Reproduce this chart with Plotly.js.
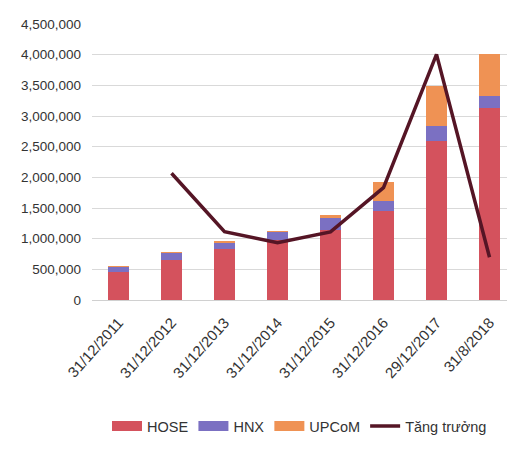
<!DOCTYPE html>
<html>
<head>
<meta charset="utf-8">
<script src="https://cdn.plot.ly/plotly-3.0.1.min.js"></script>
<style>html,body{margin:0;padding:0;background:#fff;overflow:hidden}#chart{width:507px;height:454px}</style>
</head>
<body>
<div id="chart"></div>
<script>
var categories = ["31/12/2011","31/12/2012","31/12/2013","31/12/2014","31/12/2015","31/12/2016","29/12/2017","31/8/2018"];
var hose  = [452000, 652000, 826000, 980000, 1145000, 1456000, 2590000, 3125000];
var hnx   = [ 84000, 114000, 108000, 133000,  195000,  158000,  240000,  205000];
var upcom = [ 18000,  17000,  28000,  17000,   45000,  315000,  660000,  680000];
var growth = [null, 2066000, 1114000, 934000, 1110000, 1831000, 4005000, 696000];
var yTicks = [0,500000,1000000,1500000,2000000,2500000,3000000,3500000,4000000,4500000];

var FONT = "'Liberation Sans Narrow', 'Arial Narrow', 'Liberation Sans', sans-serif";
var cHose = "#d4525d", cHnx = "#7b70c2", cUp = "#ef9254", cLine = "#551525";

var traces = [
  {type:"bar", name:"HOSE", x:categories, y:hose, marker:{color:cHose}, showlegend:false},
  {type:"bar", name:"HNX", x:categories, y:hnx, marker:{color:cHnx}, showlegend:false},
  {type:"bar", name:"UPCoM", x:categories, y:upcom, marker:{color:cUp}, showlegend:false},
  {type:"scatter", mode:"lines", name:"Tăng trưởng", x:categories, y:growth, line:{color:cLine, width:3.5}, showlegend:false},
  // legend entries
  {type:"scatter", mode:"lines", name:"HOSE", x:[null], y:[null], line:{color:cHose, width:10}},
  {type:"scatter", mode:"lines", name:"HNX", x:[null], y:[null], line:{color:cHnx, width:10}},
  {type:"scatter", mode:"lines", name:"UPCoM", x:[null], y:[null], line:{color:cUp, width:10}},
  {type:"scatter", mode:"lines", name:"Tăng trưởng", x:[null], y:[null], line:{color:cLine, width:3.5}}
];

var layout = {
  width:507, height:454,
  margin:{l:92, r:0, t:24, b:154},
  barmode:"stack", bargap:0.6,
  paper_bgcolor:"#fff", plot_bgcolor:"#fff",
  font:{family:FONT, size:13, color:"#404040"},
  xaxis:{type:"category", range:[-0.5, 7.33], tickangle:-48, showgrid:false, showline:false, ticks:"", ticklabelstandoff:10, tickfont:{family:FONT, size:15, color:"#333"}},
  yaxis:{range:[0,4500000], tickvals:yTicks, tickformat:",d", showgrid:true, gridcolor:"#d9d9d9", gridwidth:1, zeroline:true, zerolinecolor:"#d0d0d0", showline:false, ticks:"", ticklabelstandoff:10, tickfont:{family:FONT, size:13.5, color:"#333"}},
  legend:{orientation:"h", x:0.5, xanchor:"center", y:-0.457, yanchor:"middle", font:{family:FONT, size:14.5, color:"#333"}, traceorder:"normal", itemwidth:30},
  showlegend:true
};

Plotly.newPlot("chart", traces, layout, {staticPlot:true, displayModeBar:false});
</script>
</body>
</html>
